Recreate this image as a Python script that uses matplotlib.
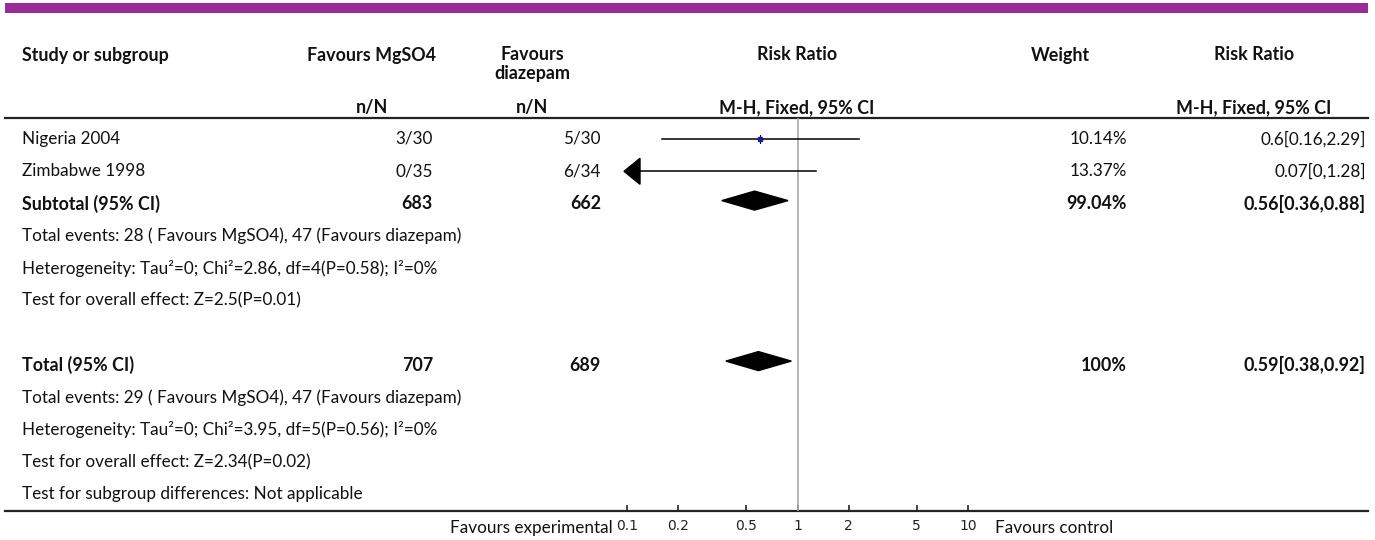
import matplotlib.pyplot as plt
from matplotlib.patches import Polygon
import numpy as np

# data
studies = ["Nigeria 2004", "Zimbabwe 1998"]
n_mg = ["3/30", "0/35"]
n_dz = ["5/30", "6/34"]
rr = [0.6, 0.07]
rr_lo = [0.16, 0.0]
rr_hi = [2.29, 1.28]
weights = ["10.14%", "13.37%"]
rr_text = ["0.6[0.16,2.29]", "0.07[0,1.28]"]

sub_n = ["683", "662"]
sub_rr = [0.56, 0.36, 0.88]
sub_weight = "99.04%"
sub_text = "0.56[0.36,0.88]"
sub_notes = ["Total events: 28 ( Favours MgSO4), 47 (Favours diazepam)",
             "Heterogeneity: Tau\u00b2=0; Chi\u00b2=2.86, df=4(P=0.58); I\u00b2=0%",
             "Test for overall effect: Z=2.5(P=0.01)"]

tot_n = ["707", "689"]
tot_rr = [0.59, 0.38, 0.92]
tot_weight = "100%"
tot_text = "0.59[0.38,0.92]"
tot_notes = ["Total events: 29 ( Favours MgSO4), 47 (Favours diazepam)",
             "Heterogeneity: Tau\u00b2=0; Chi\u00b2=3.95, df=5(P=0.56); I\u00b2=0%",
             "Test for overall effect: Z=2.34(P=0.02)",
             "Test for subgroup differences: Not applicable"]

ticks = [0.1, 0.2, 0.5, 1, 2, 5, 10]
tick_labels = ["0.1", "0.2", "0.5", "1", "2", "5", "10"]

W, H = 1375, 540
FONT = "Lato"
FS = 12.3
FS_B = 12.9

fig = plt.figure(figsize=(W / 100, H / 100), dpi=100)
bg = fig.add_axes([0, 0, 1, 1])
bg.set_xlim(0, W)
bg.set_ylim(H, 0)
bg.axis("off")

def txt(x, y, s, ha="left", bold=False, **kw):
    bg.text(x, y, s, ha=ha, va="center", fontsize=FS_B if bold else FS, family=FONT,
            fontweight="bold" if bold else "normal", color="#111111", **kw)

# purple band
bg.fill_between([5, 1368], 3, 13, color="#9b2a99", lw=0)

# header
hy1, hy2, hy3 = 55, 73, 108
txt(22, hy1, "Study or subgroup", bold=True)
txt(372, hy1, "Favours MgSO4", ha="center", bold=True)
txt(532, hy1, "Favours", ha="center", bold=True)
txt(532, hy2, "diazepam", ha="center", bold=True)
txt(372, hy3, "n/N", ha="center", bold=True)
txt(532, hy3, "n/N", ha="center", bold=True)
txt(797, hy1, "Risk Ratio", ha="center", bold=True)
txt(797, hy3, "M-H, Fixed, 95% CI", ha="center", bold=True)
txt(1060, hy1, "Weight", ha="center", bold=True)
txt(1254, hy1, "Risk Ratio", ha="center", bold=True)
txt(1254, hy3, "M-H, Fixed, 95% CI", ha="center", bold=True)
bg.plot([5, 1368], [118, 118], color="#222222", lw=1.6)
bg.plot([5, 1368], [511, 511], color="#222222", lw=1.6)

# row positions
y0, step = 139, 32.3
row_y = lambda i: y0 + i * step

x_name, x_c1, x_c2, x_w, x_rr = 22, 433, 601, 1127, 1366

for i, s in enumerate(studies):
    y = row_y(i)
    txt(x_name, y, s)
    txt(x_c1, y, n_mg[i], ha="right")
    txt(x_c2, y, n_dz[i], ha="right")
    txt(x_w, y, weights[i], ha="right")
    txt(x_rr, y, rr_text[i], ha="right")

ys = row_y(2)
txt(x_name, ys, "Subtotal (95% CI)", bold=True)
txt(x_c1, ys, sub_n[0], ha="right", bold=True)
txt(x_c2, ys, sub_n[1], ha="right", bold=True)
txt(x_w, ys, sub_weight, ha="right", bold=True)
txt(x_rr, ys, sub_text, ha="right", bold=True)
for k, s in enumerate(sub_notes):
    txt(x_name, row_y(3 + k), s)

yt = row_y(7)
txt(x_name, yt, "Total (95% CI)", bold=True)
txt(x_c1, yt, tot_n[0], ha="right", bold=True)
txt(x_c2, yt, tot_n[1], ha="right", bold=True)
txt(x_w, yt, tot_weight, ha="right", bold=True)
txt(x_rr, yt, tot_text, ha="right", bold=True)
for k, s in enumerate(tot_notes):
    txt(x_name, row_y(8 + k), s)

txt(613, 528, "Favours experimental", ha="right")
txt(995, 528, "Favours control")

# forest axes: 0.1 -> x 627, 10 -> x 968
px_lo, px_hi = 627, 968
ax_l, ax_r = 600, 990
dec = (px_hi - px_lo) / 2.0
xmin = 10 ** (-1 - (px_lo - ax_l) / dec)
xmax = 10 ** (1 + (ax_r - px_hi) / dec)
ax = fig.add_axes([ax_l / W, (H - 511) / H, (ax_r - ax_l) / W, (511 - 118) / H])
ax.set_xscale("log")
ax.set_xlim(xmin, xmax)
ax.set_ylim(511, 118)
ax.patch.set_alpha(0)
for sp in ax.spines.values():
    sp.set_visible(False)
ax.set_yticks([])
ax.set_xticks(ticks, tick_labels)
ax.minorticks_off()
ax.tick_params(axis="x", which="major", direction="in", length=4.5, width=1.2,
               color="#222222", pad=6, labelsize=10, labelcolor="#222222")

ax.axvline(1, color="#aaaaaa", lw=1.2)

# study lines
for i in range(len(studies)):
    y = row_y(i)
    lo = max(rr_lo[i], 0.1)
    hi = rr_hi[i]
    if rr_lo[i] < 0.1:
        # arrow at left
        base = 10 ** (np.log10(0.1) + 13 / dec)
        ax.plot([base, hi], [y, y], color="black", lw=1.1)
        ax.add_patch(Polygon([[10 ** (np.log10(0.1) - 3 / dec), y],
                              [base, y - 13], [base, y + 13]],
                             closed=True, color="black", clip_on=False))
    else:
        ax.plot([lo, hi], [y, y], color="black", lw=1.1)
        ax.plot([rr[i], rr[i]], [y - 4, y + 4], color="black", lw=0.8)
        ax.plot(rr[i], y, marker="s", ms=3, color="#1a1aa0", mec="#1a1aa0")

def diamond(vals, y, h=9.5):
    c, lo, hi = vals
    ax.add_patch(Polygon([[lo, y], [c, y - h], [hi, y], [c, y + h]],
                         closed=True, color="black"))

diamond(sub_rr, row_y(2) - 3)
diamond(tot_rr, row_y(7) - 4)

fig.savefig("out.png", dpi=100)
